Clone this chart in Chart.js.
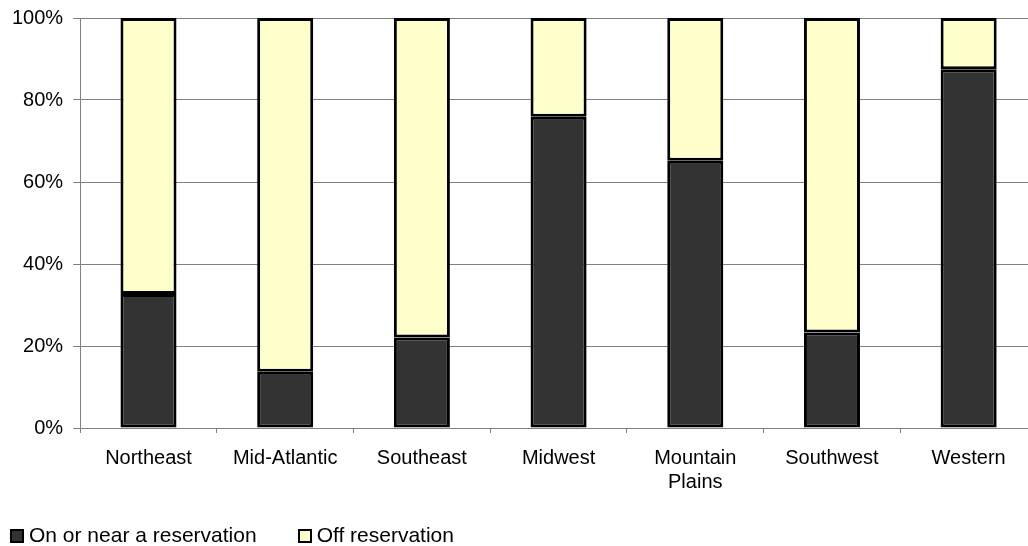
<!DOCTYPE html>
<html>
<head>
<meta charset="utf-8">
<script src="https://cdn.jsdelivr.net/npm/chart.js@4"></script>
<style>
  html, body { margin: 0; padding: 0; background: #fff; overflow: hidden; }
  #wrap { position: relative; width: 1040px; height: 546px; }
  #legend { position: absolute; left: 10px; top: 523px; font-family: "Liberation Sans", Arial, sans-serif; font-size: 21px; color: #000; white-space: nowrap; }
  #legend span.item { display: inline-block; margin-right: 41px; }
  #legend span.box { display: inline-block; width: 10px; height: 10px; border: 2px solid #000; margin-right: 5px; vertical-align: -1px; }
</style>
</head>
<body>
<div id="wrap">
  <canvas id="barChart" width="1040" height="546"></canvas>
  <div id="legend"></div>
</div>
<script>
var regions = ["Northeast", "Mid-Atlantic", "Southeast", "Midwest", ["Mountain", "Plains"], "Southwest", "Western"];
var onReservation = [32.7, 13.7, 22.1, 75.9, 65.2, 23.3, 87.5];
var offReservation = [67.3, 86.3, 77.9, 24.1, 34.8, 76.7, 12.5];
var yTicks = [0, 20, 40, 60, 80, 100];

Chart.defaults.font.family = "'Liberation Sans', Arial, sans-serif";
Chart.defaults.font.size = 20;
Chart.defaults.color = "#000";

var ctx1 = document.getElementById("barChart").getContext("2d");
var myChart = new Chart(ctx1, {
    type: "bar",
    data: {
        labels: regions,
        datasets: [
            {
                label: "On or near a reservation",
                data: onReservation,
                backgroundColor: "#333333",
                borderColor: "#000000",
                borderWidth: 3,
                borderSkipped: false,
                barPercentage: 0.41,
                categoryPercentage: 1.0
            },
            {
                label: "Off reservation",
                data: offReservation,
                backgroundColor: "#ffffcc",
                borderColor: "#000000",
                borderWidth: 3,
                borderSkipped: false,
                barPercentage: 0.41,
                categoryPercentage: 1.0
            }
        ]
    },
    options: {
        responsive: false,
        animation: false,
        layout: {
            padding: { left: 2, right: 3, top: 0, bottom: 39 }
        },
        plugins: {
            legend: { display: false },
            tooltip: { enabled: false }
        },
        scales: {
            y: {
                stacked: true,
                min: 0,
                max: 100,
                afterBuildTicks: function(axis) {
                    axis.ticks = yTicks.map(function(v) { return { value: v }; });
                },
                ticks: {
                    padding: 10,
                    font: { size: 20, lineHeight: 0.8 },
                    callback: function(value) {
                        return value + "%";
                    }
                },
                grid: {
                    color: "#808080",
                    lineWidth: 1,
                    tickLength: 7
                },
                border: { color: "#808080", width: 1 }
            },
            x: {
                stacked: true,
                ticks: {
                    padding: 13,
                    maxRotation: 0,
                    autoSkip: false
                },
                grid: {
                    offset: true,
                    drawOnChartArea: false,
                    color: "#808080",
                    tickLength: 5
                },
                border: { color: "#808080", width: 1 }
            }
        }
    }
});

var legendEl = document.getElementById("legend");
myChart.data.datasets.forEach(function(ds) {
    var item = document.createElement("span");
    item.className = "item";
    var box = document.createElement("span");
    box.className = "box";
    box.style.background = ds.backgroundColor;
    item.appendChild(box);
    item.appendChild(document.createTextNode(ds.label));
    legendEl.appendChild(item);
});
</script>
</body>
</html>
